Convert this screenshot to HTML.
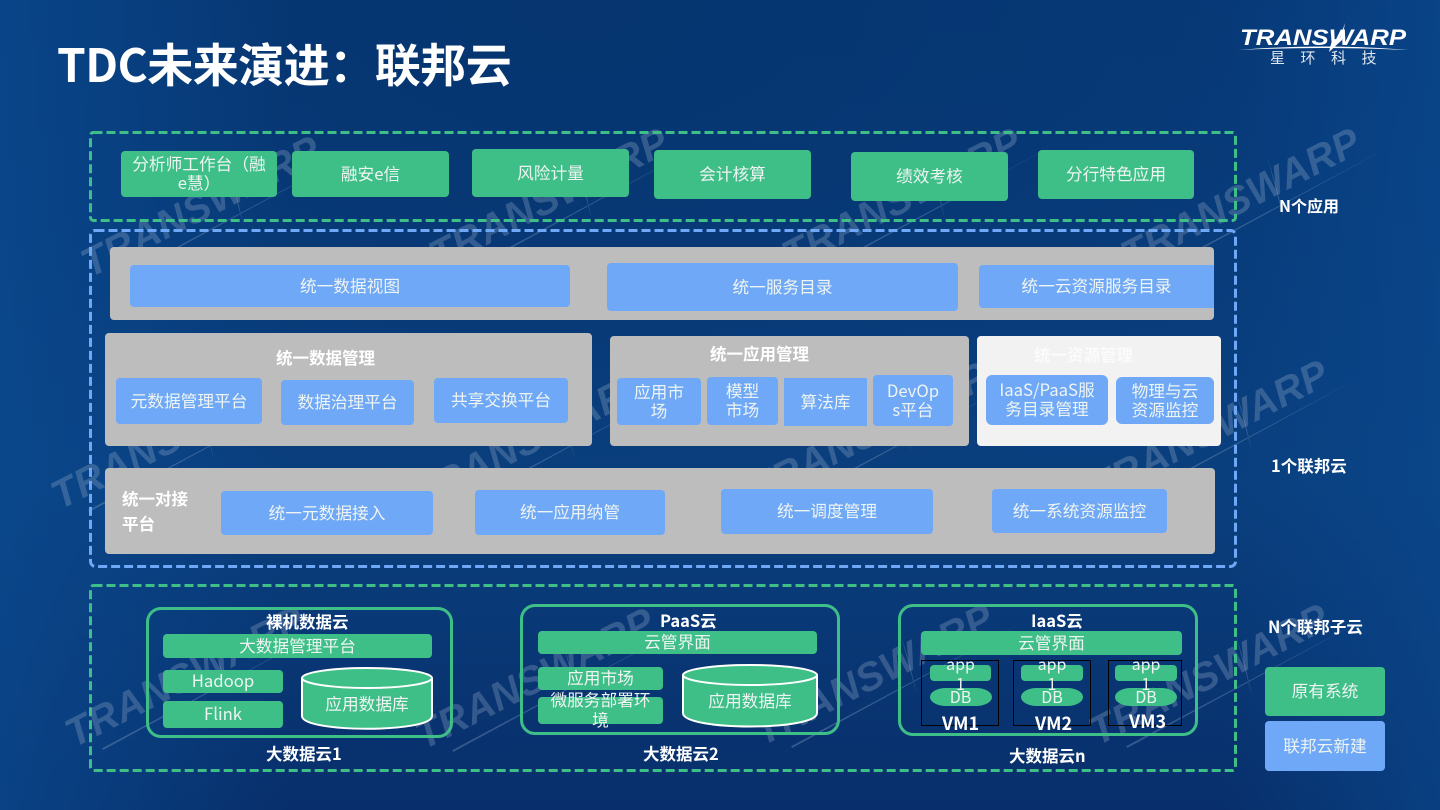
<!DOCTYPE html>
<html lang="zh"><head><meta charset="utf-8"><title>TDC未来演进：联邦云</title>
<style>
html,body{margin:0;padding:0}
body{width:1440px;height:810px;overflow:hidden;position:relative;font-family:"Noto Sans CJK SC","Liberation Sans",sans-serif;color:#fff;
background:radial-gradient(ellipse 900px 500px at 40% 0%,#06356f 0%,rgba(6,53,111,0) 100%),linear-gradient(180deg,#073a7a 0%,#0a3f7e 60%,#082f6b 100%)}
#bg{position:absolute;left:0;top:0}
.b{position:absolute;display:flex;align-items:center;justify-content:center;text-align:center;box-sizing:border-box;font-size:16.700px;line-height:19px;color:#eef4f2;border-radius:4px;padding-bottom:2px}
.g{background:#3fbf88}.u{background:#6fa8f7}.y{background:#bdbdbd}
.t{position:absolute;font-weight:700;font-size:16.500px;line-height:20px;white-space:nowrap;text-align:center;color:#fff}
.c{position:absolute;box-sizing:border-box;border:3px solid #3fbf88;border-radius:15px}
.v{position:absolute;box-sizing:border-box;border:1px solid #000}
.r{font-weight:400;font-size:16px;color:#eef4f2}
svg{position:absolute;left:0;top:0}
</style></head><body>
<svg id="bg" width="1440" height="810">
<defs><linearGradient id="lg" x1="0" x2="1" y1="0" y2="0"><stop offset="0" stop-color="#0a4a90" stop-opacity=".7"/><stop offset=".2" stop-color="#0a4a90" stop-opacity="0"/><stop offset=".85" stop-color="#0a4a90" stop-opacity="0"/><stop offset="1" stop-color="#0a4a90" stop-opacity=".6"/></linearGradient></defs>
<rect width="1440" height="810" fill="url(#lg)"/>
<g font-family="Liberation Sans,sans-serif" font-style="italic" font-weight="700" font-size="40" fill="#8fa6c4" fill-opacity=".33">
<g transform="translate(90 278) rotate(-27)"><text textLength="262">TRANSWARP</text><path d="M25 13 L290 8 L25 15Z M174 -40 L160 25 L167 -2Z"/></g>
<g transform="translate(438 270) rotate(-27)"><text textLength="262">TRANSWARP</text><path d="M25 13 L290 8 L25 15Z M174 -40 L160 25 L167 -2Z"/></g>
<g transform="translate(791 270) rotate(-27)"><text textLength="262">TRANSWARP</text><path d="M25 13 L290 8 L25 15Z M174 -40 L160 25 L167 -2Z"/></g>
<g transform="translate(1130 270) rotate(-27)"><text textLength="262">TRANSWARP</text><path d="M25 13 L290 8 L25 15Z M174 -40 L160 25 L167 -2Z"/></g>
<g transform="translate(60 510) rotate(-27)"><text textLength="262">TRANSWARP</text><path d="M25 13 L290 8 L25 15Z M174 -40 L160 25 L167 -2Z"/></g>
<g transform="translate(421 510) rotate(-27)"><text textLength="262">TRANSWARP</text><path d="M25 13 L290 8 L25 15Z M174 -40 L160 25 L167 -2Z"/></g>
<g transform="translate(758 504) rotate(-27)"><text textLength="262">TRANSWARP</text><path d="M25 13 L290 8 L25 15Z M174 -40 L160 25 L167 -2Z"/></g>
<g transform="translate(1098 502) rotate(-27)"><text textLength="262">TRANSWARP</text><path d="M25 13 L290 8 L25 15Z M174 -40 L160 25 L167 -2Z"/></g>
<g transform="translate(74 748) rotate(-27)"><text textLength="262">TRANSWARP</text><path d="M25 13 L290 8 L25 15Z M174 -40 L160 25 L167 -2Z"/></g>
<g transform="translate(424 750) rotate(-27)"><text textLength="262">TRANSWARP</text><path d="M25 13 L290 8 L25 15Z M174 -40 L160 25 L167 -2Z"/></g>
<g transform="translate(763 746) rotate(-27)"><text textLength="262">TRANSWARP</text><path d="M25 13 L290 8 L25 15Z M174 -40 L160 25 L167 -2Z"/></g>
<g transform="translate(1098 746) rotate(-27)"><text textLength="262">TRANSWARP</text><path d="M25 13 L290 8 L25 15Z M174 -40 L160 25 L167 -2Z"/></g>
</g>
</svg>

<div class="t" style="left:57px;top:33px;font-size:46px;line-height:60px;letter-spacing:-.5px">TDC未来演进：联邦云</div>

<!-- logo -->
<svg width="1440" height="810">
<text x="1240" y="45" font-family="Liberation Sans,sans-serif" font-style="italic" font-weight="700" font-size="22" fill="#fff" textLength="166" lengthAdjust="spacingAndGlyphs">TRANSWARP</text>
<path d="M1238 50 Q1320 43 1408 50 Q1320 46 1238 50Z" fill="#fff"/>
<path d="M1345 23 L1340 38 L1332 40 L1329 52 L1342 40 Z" fill="#fff"/>
</svg>
<div class="t" style="left:1270px;top:49px;font-size:15px;line-height:18px;font-weight:400;letter-spacing:15.500px;color:#dfe8f2">星环科技</div>

<!-- dashed frames -->
<svg width="1440" height="810" fill="none" stroke-width="3" stroke-dasharray="9 4">
<rect x="90.500" y="132.500" width="1145" height="88" rx="3" stroke="#3fbf88"/>
<rect x="90.500" y="230.500" width="1145" height="336" rx="5" stroke="#6fa8f7"/>
<rect x="90.500" y="585.500" width="1145" height="185" rx="3" stroke="#3fbf88"/>
</svg>

<!-- apps -->
<div class="b g" style="left:121px;top:151px;width:156px;height:46px;line-height:19px">分析师工作台（融<br>e慧）</div>
<div class="b g" style="left:292px;top:151px;width:157px;height:46px">融安e信</div>
<div class="b g" style="left:472px;top:149px;width:157px;height:48px">风险计量</div>
<div class="b g" style="left:654px;top:150px;width:157px;height:49px">会计核算</div>
<div class="b g" style="left:851px;top:152px;width:157px;height:49px">绩效考核</div>
<div class="b g" style="left:1038px;top:150px;width:156px;height:49px">分行特色应用</div>
<div class="t" style="left:1279px;top:195px;font-size:16px">N个应用</div>

<!-- row 1 -->
<div class="b y" style="left:110px;top:247px;width:1104px;height:73px"></div>
<div class="b u" style="left:130px;top:265px;width:440px;height:42px">统一数据视图</div>
<div class="b u" style="left:607px;top:263px;width:351px;height:48px">统一服务目录</div>
<div class="b u" style="left:979px;top:265px;width:235px;height:43px;border-radius:4px 0 0 4px">统一云资源服务目录</div>

<!-- row 2 -->
<div class="b y" style="left:105px;top:333px;width:487px;height:113px"></div>
<div class="t" style="left:276px;top:347px">统一数据管理</div>
<div class="b u" style="left:116px;top:378px;width:146px;height:46px">元数据管理平台</div>
<div class="b u" style="left:281px;top:380px;width:133px;height:45px">数据治理平台</div>
<div class="b u" style="left:434px;top:378px;width:134px;height:45px">共享交换平台</div>

<div class="b y" style="left:610px;top:336px;width:359px;height:110px"></div>
<div class="t" style="left:710px;top:343px">统一应用管理</div>
<div class="b u" style="left:617px;top:378px;width:84px;height:47px">应用市<br>场</div>
<div class="b u" style="left:707px;top:377px;width:71px;height:48px">模型<br>市场</div>
<div class="b u" style="left:784px;top:378px;width:83px;height:48px;border-radius:0">算法库</div>
<div class="b u" style="left:873px;top:375px;width:80px;height:51px">DevOp<br>s平台</div>

<div class="b" style="left:977px;top:336px;width:244px;height:110px;background:#f2f2f2"></div>
<div class="t" style="left:1034px;top:344px;color:#fbfbfb">统一资源管理</div>
<div class="b u" style="left:986px;top:375px;width:122px;height:50px;border-radius:6px">IaaS/PaaS服<br>务目录管理</div>
<div class="b u" style="left:1116px;top:377px;width:98px;height:47px;border-radius:6px">物理与云<br>资源监控</div>

<!-- row 3 -->
<div class="b y" style="left:105px;top:468px;width:1110px;height:86px"></div>
<div class="t" style="left:122px;top:486px;line-height:25px;text-align:left">统一对接<br>平台</div>
<div class="b u" style="left:221px;top:491px;width:212px;height:44px">统一元数据接入</div>
<div class="b u" style="left:475px;top:490px;width:190px;height:45px">统一应用纳管</div>
<div class="b u" style="left:721px;top:489px;width:212px;height:45px">统一调度管理</div>
<div class="b u" style="left:992px;top:489px;width:175px;height:44px">统一系统资源监控</div>
<div class="t" style="left:1271px;top:455px">1个联邦云</div>

<!-- sub clouds -->
<div class="c" style="left:146px;top:607px;width:307px;height:131px"></div>
<div class="c" style="left:520px;top:604px;width:320px;height:131px"></div>
<div class="c" style="left:898px;top:604px;width:300px;height:132px"></div>

<div class="t" style="left:266px;top:611px">裸机数据云</div>
<div class="b g" style="left:163px;top:634px;width:269px;height:24px">大数据管理平台</div>
<div class="b g" style="left:163px;top:670px;width:120px;height:23px">Hadoop</div>
<div class="b g" style="left:163px;top:701px;width:120px;height:27px">Flink</div>

<div class="t" style="left:660px;top:610px">PaaS云</div>
<div class="b g" style="left:538px;top:631px;width:279px;height:23px">云管界面</div>
<div class="b g" style="left:538px;top:667px;width:125px;height:23px">应用市场</div>
<div class="b g" style="left:538px;top:697px;width:125px;height:27px;line-height:20px"><span style="position:relative;top:-1px">微服务部署环<br>境</span></div>

<div class="t" style="left:1031px;top:610px">IaaS云</div>
<div class="b g" style="left:921px;top:631px;width:261px;height:24px">云管界面</div>

<svg width="1440" height="810">
<g fill="#3fbf88" stroke="#fff" stroke-width="2">
<path d="M302 678 V716 C302 733 432 733 432 716 V678"/>
<ellipse cx="367" cy="678" rx="65" ry="10"/>
<path d="M683 675 V713 C683 731 817 731 817 713 V675"/>
<ellipse cx="750" cy="675" rx="67" ry="10"/>
</g>
</svg>
<div class="b" style="left:302px;top:692px;width:130px;height:24px">应用数据库</div>
<div class="b" style="left:683px;top:689px;width:134px;height:24px">应用数据库</div>

<!-- VMs -->
<div class="v" style="left:921px;top:660px;width:78px;height:66px"></div>
<div class="v" style="left:1013px;top:660px;width:78px;height:66px"></div>
<div class="v" style="left:1108px;top:660px;width:74px;height:66px"></div>
<div class="b g" style="left:930px;top:665px;width:61px;height:16px"></div>
<div class="b g" style="left:1021px;top:665px;width:62px;height:16px"></div>
<div class="b g" style="left:1115px;top:665px;width:62px;height:16px"></div>
<svg width="1440" height="810" fill="#3fbf88">
<rect x="930" y="688" width="62" height="18" rx="16" ry="9"/><rect x="1021" y="688" width="62" height="18" rx="16" ry="9"/><rect x="1115" y="688" width="62" height="18" rx="16" ry="9"/>
</svg>
<div class="t r" style="left:930px;top:653px;width:61px">app<br>1</div>
<div class="t r" style="left:1021px;top:653px;width:62px">app<br>1</div>
<div class="t r" style="left:1115px;top:653px;width:62px">app<br>1</div>
<div class="t r" style="left:930px;top:686px;width:61px">DB</div>
<div class="t r" style="left:1021px;top:686px;width:62px">DB</div>
<div class="t r" style="left:1115px;top:686px;width:62px">DB</div>
<div class="t" style="left:942px;top:713px;font-size:18px">VM1</div>
<div class="t" style="left:1035px;top:713px;font-size:18px">VM2</div>
<div class="t" style="left:1129px;top:711px;font-size:18px">VM3</div>

<div class="t" style="left:266px;top:743px">大数据云1</div>
<div class="t" style="left:643px;top:743px">大数据云2</div>
<div class="t" style="left:1009px;top:745px">大数据云n</div>
<div class="t" style="left:1268px;top:616px">N个联邦子云</div>

<div class="b g" style="left:1265px;top:667px;width:120px;height:49px">原有系统</div>
<div class="b u" style="left:1265px;top:721px;width:120px;height:50px">联邦云新建</div>
</body></html>
